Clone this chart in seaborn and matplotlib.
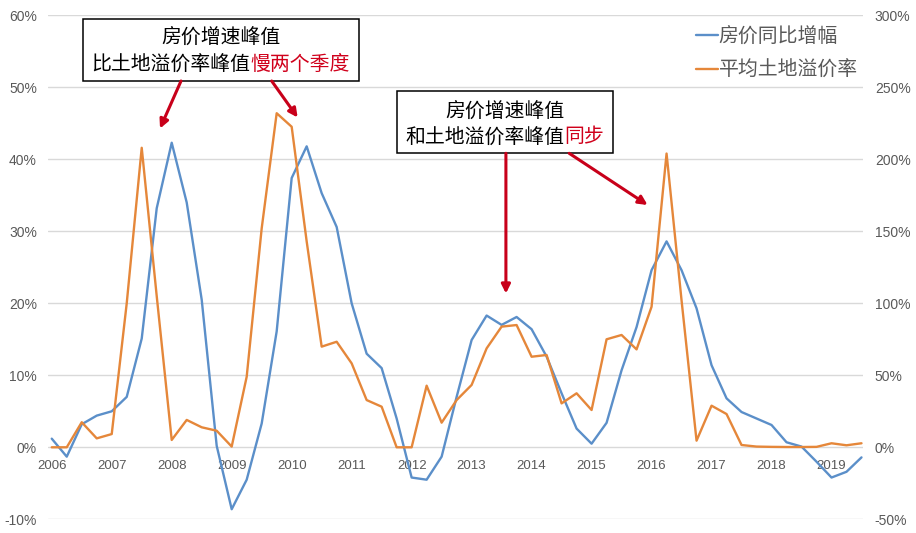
import numpy as np
import pandas as pd
import matplotlib
matplotlib.use('Agg')
import matplotlib.pyplot as plt
import seaborn as sns
from matplotlib.patches import Rectangle
from matplotlib.lines import Line2D

# ---------------- data (quarterly, 2006Q1 - 2019Q3) ----------------
years = ['2006', '2007', '2008', '2009', '2010', '2011', '2012',
         '2013', '2014', '2015', '2016', '2017', '2018', '2019']
price_yoy = [1.2, -1.3, 3.2, 4.4, 5.0, 7.0, 15.1, 33.2, 42.3, 34.0, 20.5, 0.2,
             -8.6, -4.5, 3.3, 16.1, 37.4, 41.8, 35.3, 30.6, 20.0, 13.0, 11.0, 4.0,
             -4.2, -4.5, -1.3, 7.0, 14.9, 18.3, 17.0, 18.1, 16.4, 12.6, 7.5, 2.6,
             0.5, 3.4, 10.7, 16.7, 24.6, 28.6, 24.6, 19.3, 11.4, 6.8, 4.9, 4.0,
             3.1, 0.7, 0.1, -2.0, -4.2, -3.4, -1.4]
land_premium = [0, 0, 17.4, 6.2, 9.2, 100, 208, 105, 5.1, 19, 13.9, 11.5,
                0.5, 49, 152, 232, 222.6, 143, 69.9, 73.3, 58.3, 32.8, 28.2, 0,
                0, 42.8, 17.1, 32.8, 43.3, 68.7, 83.8, 84.9, 62.9, 64.1, 30.5, 37.5,
                25.9, 75, 78, 68, 97.6, 204, 102, 4.6, 28.9, 23.1, 1.6, 0.5,
                0.3, 0.2, 0.2, 0.3, 2.8, 1.4, 2.8]
series_names = ['房价同比增幅', '平均土地溢价率']
left_ticks = [-10, 0, 10, 20, 30, 40, 50, 60]
right_ticks = [-50, 0, 50, 100, 150, 200, 250, 300]
box1_title = '房价增速峰值'
box1_black = '比土地溢价率峰值'
box1_red = '慢两个季度'
box2_title = '房价增速峰值'
box2_black = '和土地溢价率峰值'
box2_red = '同步'

BLUE = '#5B8FC9'
ORANGE = '#E5873A'
RED = '#D0001B'
ARROW = '#C8001A'
GRAY = '#595959'
GRID = '#D9D9D9'

sns.set_theme(style='white')
plt.rcParams['font.family'] = ['Noto Sans CJK SC', 'DejaVu Sans']

df = pd.DataFrame({'q': np.arange(len(price_yoy)),
                   'price': price_yoy,
                   'premium': land_premium})

W, H = 916, 533
fig = plt.figure(figsize=(W / 100, H / 100), dpi=100)
ax = fig.add_axes([48 / W, 1 - 519.3 / H, (863 - 48) / W, (519.3 - 15.3) / H])
ax2 = ax.twinx()

sns.lineplot(data=df, x='q', y='price', ax=ax, color=BLUE, lw=1.7)
sns.lineplot(data=df, x='q', y='premium', ax=ax2, color=ORANGE, lw=1.7)

ax.set_xlim(-0.25, 54.1)
ax.set_ylim(-10, 60)
ax2.set_ylim(-50, 300)
for a in (ax, ax2):
    a.set_xlabel('')
    a.set_ylabel('')
    for s in a.spines.values():
        s.set_visible(False)

ax.set_yticks(left_ticks)
ax.set_yticklabels([f'{v}%' for v in left_ticks])
ax2.set_yticks(right_ticks)
ax2.set_yticklabels([f'{v}%' for v in right_ticks])
ax.set_xticks(list(range(0, 4 * len(years), 4)))
ax.set_xticklabels(years)
ax.spines['bottom'].set_position(('data', 0))

ax.grid(axis='y', color=GRID, lw=1)
ax.grid(axis='x', visible=False)
ax2.grid(False)
ax.tick_params(axis='y', length=0, pad=8, labelsize=10, labelcolor=GRAY)
ax2.tick_params(axis='y', length=0, pad=8.5, labelsize=10, labelcolor=GRAY)
ax.tick_params(axis='x', length=0, pad=9.2, labelsize=9.5, labelcolor=GRAY)
for lab in ax.get_xticklabels() + ax.get_yticklabels() + ax2.get_yticklabels():
    lab.set_fontfamily(['Liberation Sans', 'DejaVu Sans'])

# ---------------- annotations ----------------
def px(x, y):
    """figure-pixel (from top-left) -> left-axis data coords"""
    return ((x - 51.7) / 15.0, (447.3 - y) / 7.2)

T = ax.transData
FS = 14.3

def box(x0, y0, x1, y1):
    (dx0, dy0), (dx1, dy1) = px(x0, y0), px(x1, y1)
    r = Rectangle((dx0, dy1), dx1 - dx0, dy0 - dy1, transform=T,
                  facecolor='white', edgecolor='black', lw=1.1,
                  clip_on=False, zorder=5)
    ax2.add_patch(r)

def txt(x, y, s, color='black', ha='center'):
    dx, dy = px(x, y)
    ax2.text(dx, dy, s, transform=T, ha=ha, va='center', fontsize=FS,
             color=color, zorder=6, clip_on=False)

def arrow(x0, y0, x1, y1):
    ax2.annotate('', xy=px(x1, y1), xytext=px(x0, y0), xycoords=T, textcoords=T,
                 arrowprops=dict(arrowstyle='-|>', color=ARROW, lw=2.2,
                                 mutation_scale=13, shrinkA=0, shrinkB=0),
                 zorder=6, annotation_clip=False)

# box 1
box(82.7, 19, 359.3, 81)
txt(221, 37, box1_title)
txt(250.7, 64, box1_black, ha='right')
txt(250.7, 64, box1_red, color=RED, ha='left')
arrow(181, 81, 160, 128.5)
arrow(271.7, 81, 297.7, 117.5)

# box 2
box(397.3, 91, 613.3, 153.3)
txt(505.3, 111, box2_title)
txt(564.7, 137, box2_black, ha='right')
txt(564.7, 137, box2_red, color=RED, ha='left')
arrow(506, 153.3, 506, 293.5)
arrow(569.3, 153.3, 647.7, 205)

# ---------------- legend ----------------
handles = [Line2D([], [], color=BLUE, lw=1.7), Line2D([], [], color=ORANGE, lw=1.7)]
fig.legend(handles, series_names, loc='upper left',
           bbox_to_anchor=(686 / W, 1 - 16 / H), frameon=False, borderpad=0,
           handlelength=1.1, handletextpad=0.05, labelspacing=0.64,
           fontsize=FS, labelcolor=GRAY)

fig.savefig('out.png', dpi=100)
